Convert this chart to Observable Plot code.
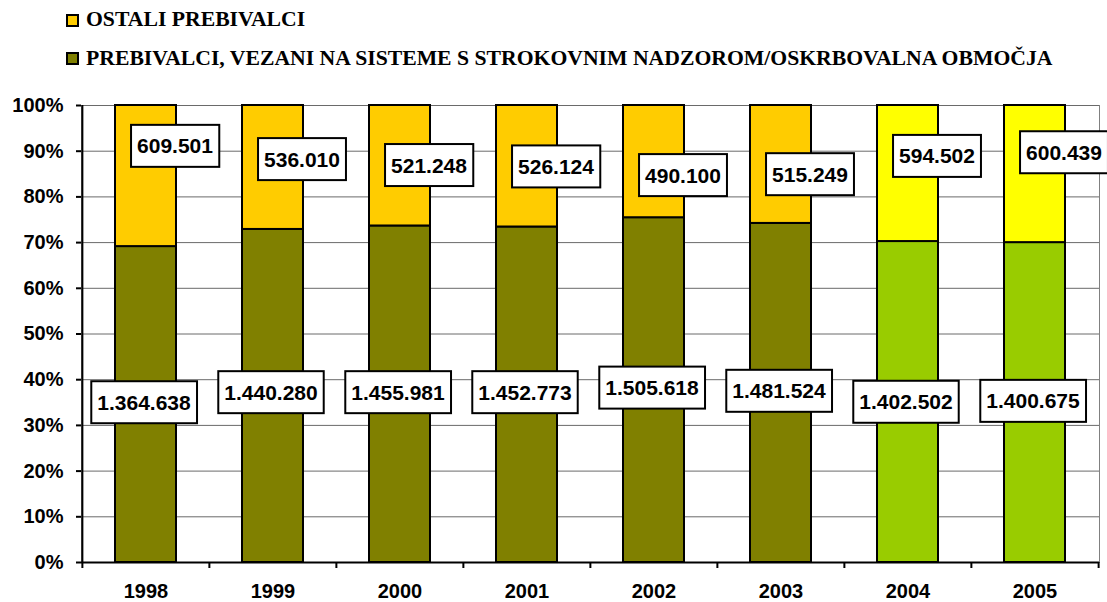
<!DOCTYPE html>
<html><head><meta charset="utf-8">
<script src="https://cdn.jsdelivr.net/npm/d3@7"></script>
<script src="https://cdn.jsdelivr.net/npm/@observablehq/plot@0.6"></script>
<style>
body{margin:0;background:#fff;}
#wrap{position:relative;width:1107px;height:602px;overflow:hidden;background:#fff;}
#wrap svg{position:absolute;left:0;top:0;}
.legtext{position:absolute;left:86px;font-family:"Liberation Serif","Times New Roman",serif;font-weight:bold;font-size:21.7px;line-height:21px;white-space:nowrap;color:#000;}
.sw{position:absolute;left:66px;width:9px;height:9px;border:2px solid #000;}
</style></head><body><div id="wrap"></div>
<script>
// ---- data ----
const years = ["1998","1999","2000","2001","2002","2003","2004","2005"];
const connected = [1364638,1440280,1455981,1452773,1505618,1481524,1402502,1400675];
const others = [609501,536010,521248,526124,490100,515249,594502,600439];
const seriesNames = ["PREBIVALCI, VEZANI NA SISTEME S STROKOVNIM NADZOROM/OSKRBOVALNA OBMOČJA","OSTALI PREBIVALCI"];
const yTickValues = [0,10,20,30,40,50,60,70,80,90,100];
const yTickLabels = ["0%","10%","20%","30%","40%","50%","60%","70%","80%","90%","100%"];

// ---- label placement (share of the column where each data label sits) ----
const lowerLabelAt = [0.349,0.371,0.371,0.371,0.381,0.374,0.350,0.352];
const upperLabelAt = [0.910,0.881,0.868,0.865,0.846,0.848,0.888,0.896];

const W=1107,H=602,mL=81,mR=8,mT=105,mB=40;
const step=(W-mL-mR)/years.length;
const tickLen=6/(H-mT-mB);

const rows=[];
years.forEach((y,i)=>{
  rows.push({year:y,series:seriesNames[0],value:connected[i],idx:i});
  rows.push({year:y,series:seriesNames[1],value:others[i],idx:i});
});
const fillOf=d=>{const late=+d.year>=2004;return d.series===seriesNames[0]?(late?"#99CC00":"#808000"):(late?"#FFFF00":"#FFCC00");};
const fmt=v=>d3.format(",")(v).replace(/,/g,".");
const lowerLabels=rows.filter(d=>d.series===seriesNames[0]).map(d=>({...d,pos:lowerLabelAt[d.idx]}));
const upperLabels=rows.filter(d=>d.series===seriesNames[1]).map(d=>({...d,pos:upperLabelAt[d.idx]}));

const chart=Plot.plot({
  width:W,height:H,marginLeft:mL,marginRight:mR,marginTop:mT,marginBottom:mB,
  style:{fontFamily:"'Liberation Sans',Arial,sans-serif",fontWeight:"bold",fontSize:"20px",background:"white",color:"#000"},
  x:{domain:years,paddingInner:0.52,paddingOuter:0.26,label:null},
  y:{domain:[0,1],label:null},
  marks:[
    Plot.frame({stroke:"#808080",strokeWidth:1}),
    Plot.ruleY(yTickValues.slice(1).map(v=>v/100),{stroke:"#6a6a6a",strokeWidth:1}),
    Plot.barY(rows,Plot.stackY({offset:"normalize",x:"year",y:"value",fill:fillOf,stroke:"#000",strokeWidth:2})),
    Plot.ruleY([0],{stroke:"#000",strokeWidth:2}),
    Plot.ruleX([years[0]],{x:d=>d,y1:0,y2:1,dx:-step/2,stroke:"#000",strokeWidth:2}),
    Plot.ruleX(years,{x:d=>d,y1:0,y2:-tickLen,dx:-step/2,stroke:"#000",strokeWidth:2}),
    Plot.ruleX([years[years.length-1]],{x:d=>d,y1:0,y2:-tickLen,dx:step/2,stroke:"#000",strokeWidth:2}),
    Plot.axisY({ticks:yTickValues.map(v=>v/100),tickFormat:(d)=>yTickLabels[yTickValues.indexOf(Math.round(d*100))],tickSize:5,tickPadding:13,strokeWidth:2,fontSize:20,fontWeight:"bold",label:null}),
    Plot.axisX({tickSize:0,tickPadding:21,fontSize:20,fontWeight:"bold",label:null}),
    Plot.text(lowerLabels,{x:"year",y:"pos",text:d=>fmt(d.value),dx:-2,fontSize:21,fontWeight:"bold",fill:"#000",className:"vlabel"}),
    Plot.text(upperLabels,{x:"year",y:"pos",text:d=>fmt(d.value),dx:29,fontSize:21,fontWeight:"bold",fill:"#000",className:"vlabel"})
  ]
});
const wrap=document.getElementById("wrap");
wrap.append(chart);

// boxes behind data labels
const NS="http://www.w3.org/2000/svg";
chart.querySelectorAll(".vlabel text").forEach(t=>{
  const b=t.getBBox();
  const padX=6,padY=9.5;
  const r=document.createElementNS(NS,"rect");
  r.setAttribute("x",b.x-padX);r.setAttribute("y",b.y-padY);
  r.setAttribute("width",b.width+2*padX);r.setAttribute("height",b.height+2*padY);
  r.setAttribute("fill","#fff");r.setAttribute("stroke","#000");r.setAttribute("stroke-width","2");
  const tr=t.getAttribute("transform");if(tr)r.setAttribute("transform",tr);
  t.parentNode.insertBefore(r,t);
});

// legend
const legendItems=[{name:seriesNames[1],color:"#FFCC00",top:8.5,sq:14},{name:seriesNames[0],color:"#808000",top:47.5,sq:52}];
legendItems.forEach(it=>{
  const s=document.createElement("div");s.className="sw";s.style.top=it.sq+"px";s.style.background=it.color;wrap.append(s);
  const t=document.createElement("div");t.className="legtext";t.style.top=it.top+"px";t.textContent=it.name;wrap.append(t);
});
</script>
</body></html>
